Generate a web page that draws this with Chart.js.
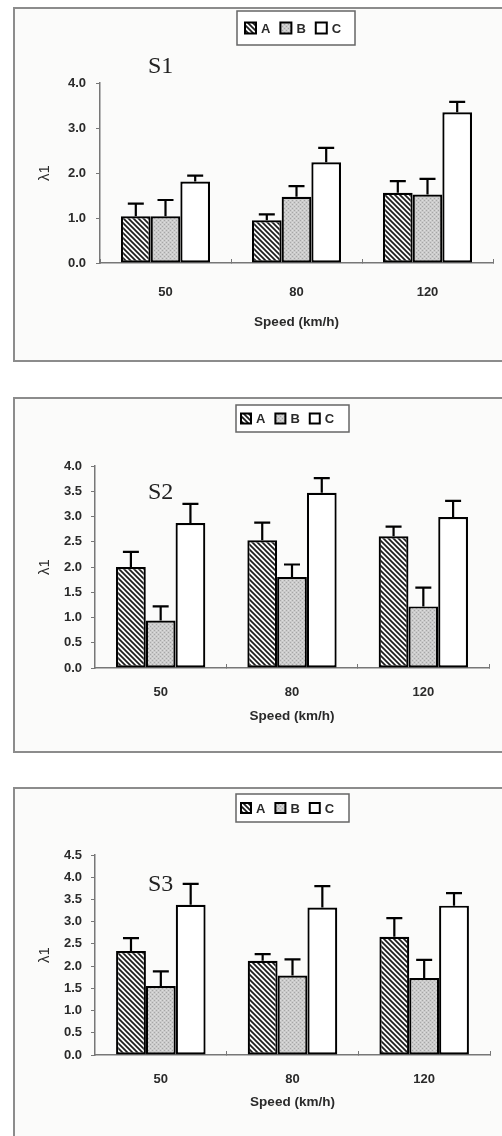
<!DOCTYPE html>
<html>
<head>
<meta charset="utf-8">
<script src="https://cdn.jsdelivr.net/npm/chart.js@4.4.1/dist/chart.umd.min.js"></script>
<style>
html, body { margin: 0; padding: 0; background: #fff; width: 502px; height: 1136px; overflow: hidden; position: relative; }
.frame { position: absolute; left: 13px; width: 500px; border: 2px solid #8c8c8c; background: #fbfbfa; box-sizing: border-box; }
canvas { position: absolute; left: 0; }
</style>
</head>
<body>
<div class="frame" style="top:7px;height:355px"></div>
<div class="frame" style="top:397px;height:356px"></div>
<div class="frame" style="top:787px;height:360px"></div>
<canvas id="c1" width="502" height="370" style="top:0px"></canvas>
<canvas id="c2" width="502" height="380" style="top:380px"></canvas>
<canvas id="c3" width="502" height="366" style="top:770px"></canvas>
<script>
// categories and series
var speeds = ['50', '80', '120'];
var seriesNames = ['A', 'B', 'C'];

// S1 means and error bars
var s1A = [1.04, 0.95, 1.56];
var s1B = [1.04, 1.47, 1.52];
var s1C = [1.81, 2.24, 3.35];
var s1ErrA = [0.28, 0.13, 0.26];
var s1ErrB = [0.36, 0.24, 0.35];
var s1ErrC = [0.13, 0.32, 0.23];
var s1Ticks = [0, 1, 2, 3, 4];

// S2
var s2A = [2.00, 2.53, 2.61];
var s2B = [0.94, 1.80, 1.22];
var s2C = [2.87, 3.47, 2.99];
var s2ErrA = [0.30, 0.35, 0.19];
var s2ErrB = [0.28, 0.25, 0.37];
var s2ErrC = [0.38, 0.29, 0.32];
var s2Ticks = [0, 0.5, 1, 1.5, 2, 2.5, 3, 3.5, 4];

// S3
var s3A = [2.34, 2.12, 2.66];
var s3B = [1.55, 1.79, 1.73];
var s3C = [3.38, 3.32, 3.36];
var s3ErrA = [0.29, 0.15, 0.42];
var s3ErrB = [0.33, 0.36, 0.41];
var s3ErrC = [0.47, 0.48, 0.28];
var s3Ticks = [0, 0.5, 1, 1.5, 2, 2.5, 3, 3.5, 4, 4.5];

var FONT = '"Liberation Sans", Arial, sans-serif';

function hatchPattern() {
    var c = document.createElement('canvas');
    c.width = 5; c.height = 5;
    var g = c.getContext('2d');
    g.fillStyle = '#fafafa';
    g.fillRect(0, 0, 5, 5);
    g.strokeStyle = '#1c1c1c';
    g.lineWidth = 1.7;
    g.beginPath();
    g.moveTo(-1, -1); g.lineTo(6, 6);
    g.moveTo(4, -1); g.lineTo(6, 1);
    g.moveTo(-1, 4); g.lineTo(1, 6);
    g.stroke();
    return g.createPattern(c, 'repeat');
}

function dotPattern() {
    var c = document.createElement('canvas');
    c.width = 4; c.height = 4;
    var g = c.getContext('2d');
    g.fillStyle = '#cbcbcb';
    g.fillRect(0, 0, 4, 4);
    g.fillStyle = '#a6a6a6';
    g.fillRect(0, 0, 1, 1);
    g.fillRect(2, 2, 1, 1);
    g.fillStyle = '#dddddd';
    g.fillRect(2, 0, 1, 1);
    g.fillRect(0, 2, 1, 1);
    return g.createPattern(c, 'repeat');
}

var fills = [hatchPattern(), dotPattern(), '#ffffff'];

// vertical error bars with a cap, on top of each bar
var errorBars = {
    id: 'errorBars',
    afterDatasetsDraw: function(chart) {
        var ctx = chart.ctx;
        var yScale = chart.scales.y;
        chart.data.datasets.forEach(function(ds, i) {
            var meta = chart.getDatasetMeta(i);
            meta.data.forEach(function(bar, j) {
                var top = yScale.getPixelForValue(ds.data[j] + ds.errors[j]);
                ctx.save();
                ctx.strokeStyle = '#000';
                ctx.lineWidth = 2.2;
                ctx.beginPath();
                ctx.moveTo(bar.x, bar.y);
                ctx.lineTo(bar.x, top);
                ctx.moveTo(bar.x - 8, top);
                ctx.lineTo(bar.x + 8, top);
                ctx.stroke();
                ctx.restore();
            });
        });
    }
};

// boxed legend and the panel label (S1, S2, S3)
var panelDecor = {
    id: 'panelDecor',
    afterDraw: function(chart, args, o) {
        var ctx = chart.ctx;
        ctx.save();
        ctx.fillStyle = '#fff';
        ctx.fillRect(o.box[0], o.box[1], o.box[2], o.box[3]);
        ctx.strokeStyle = '#666';
        ctx.lineWidth = 1.5;
        ctx.strokeRect(o.box[0], o.box[1], o.box[2], o.box[3]);
        ctx.font = 'bold 13px ' + FONT;
        ctx.textBaseline = 'middle';
        var x = o.box[0] + o.start;
        var cy = o.box[1] + o.box[3] / 2;
        chart.data.datasets.forEach(function(ds) {
            ctx.fillStyle = ds.backgroundColor;
            ctx.fillRect(x, cy - o.sw / 2, o.sw, o.sw);
            ctx.strokeStyle = '#000';
            ctx.lineWidth = 2;
            ctx.strokeRect(x, cy - o.sw / 2, o.sw, o.sw);
            x += o.sw + 5;
            ctx.fillStyle = '#2a2a2a';
            ctx.fillText(ds.label, x, cy + 1);
            x += ctx.measureText(ds.label).width + 10;
        });
        ctx.font = '24px "Liberation Serif", "Times New Roman", serif';
        ctx.fillStyle = '#222';
        ctx.fillText(o.label, o.labelX, o.labelY);
        ctx.restore();
    }
};

function buildChart(id, p) {
    var values = [p.a, p.b, p.c];
    var errs = [p.ea, p.eb, p.ec];
    var datasets = seriesNames.map(function(name, i) {
        return {
            label: name,
            data: values[i],
            errors: errs[i],
            backgroundColor: fills[i],
            borderColor: '#000',
            borderWidth: 2.2,
            borderSkipped: false,
            categoryPercentage: 0.68,
            barPercentage: 1
        };
    });
    return new Chart(document.getElementById(id), {
        type: 'bar',
        data: { labels: speeds, datasets: datasets },
        options: {
            responsive: false,
            animation: false,
            layout: { padding: { left: 0, right: p.right, top: p.top, bottom: p.bottom } },
            plugins: {
                legend: { display: false },
                tooltip: { enabled: false },
                panelDecor: { box: p.box, start: p.start, sw: p.sw, label: p.label, labelX: 148, labelY: p.labelY }
            },
            scales: {
                x: {
                    grid: { offset: true, drawOnChartArea: false, tickLength: -4, color: '#777' },
                    border: { color: '#777', width: 1.5 },
                    ticks: { padding: p.tickPad, color: '#2a2a2a', font: { family: FONT, size: 13, weight: 'bold' } },
                    title: { display: true, text: 'Speed (km/h)', color: '#2a2a2a', padding: { top: 0, bottom: 3 }, font: { family: FONT, size: 13.5, weight: 'bold' } },
                    afterFit: function(s) { s.height = p.xh; }
                },
                y: {
                    min: 0,
                    max: p.ticks[p.ticks.length - 1],
                    afterBuildTicks: function(s) {
                        s.ticks = p.ticks.map(function(v) { return { value: v }; });
                    },
                    grid: { drawOnChartArea: false, tickLength: 4, color: '#777' },
                    border: { color: '#777', width: 1.5 },
                    ticks: {
                        padding: p.yPad,
                        color: '#2a2a2a',
                        font: { family: FONT, size: 13, weight: 'bold' },
                        callback: function(v) { return Number(v).toFixed(1); }
                    },
                    title: { display: true, text: 'λ1', color: '#2a2a2a', padding: { top: 36, bottom: 0 }, font: { family: FONT, size: 15 } },
                    afterFit: function(s) { s.width = p.yw; }
                }
            }
        },
        plugins: [errorBars, panelDecor]
    });
}

buildChart('c1', {
    a: s1A, b: s1B, c: s1C, ea: s1ErrA, eb: s1ErrB, ec: s1ErrC, ticks: s1Ticks,
    top: 83, right: 9, bottom: 37, xh: 70, yw: 100, yPad: 10, tickPad: 26,
    box: [237, 11, 118, 34], start: 8, sw: 11, label: 'S1', labelY: 67
});
buildChart('c2', {
    a: s2A, b: s2B, c: s2C, ea: s2ErrA, eb: s2ErrB, ec: s2ErrC, ticks: s2Ticks,
    top: 86, right: 13, bottom: 33, xh: 59, yw: 95, yPad: 9, tickPad: 21,
    box: [236, 25, 113, 27], start: 5, sw: 10, label: 'S2', labelY: 113
});
buildChart('c3', {
    a: s3A, b: s3B, c: s3C, ea: s3ErrA, eb: s3ErrB, ec: s3ErrC, ticks: s3Ticks,
    top: 85, right: 12, bottom: 23, xh: 58, yw: 95, yPad: 9, tickPad: 21,
    box: [236, 24, 113, 28], start: 5, sw: 10, label: 'S3', labelY: 115
});
</script>
</body>
</html>
